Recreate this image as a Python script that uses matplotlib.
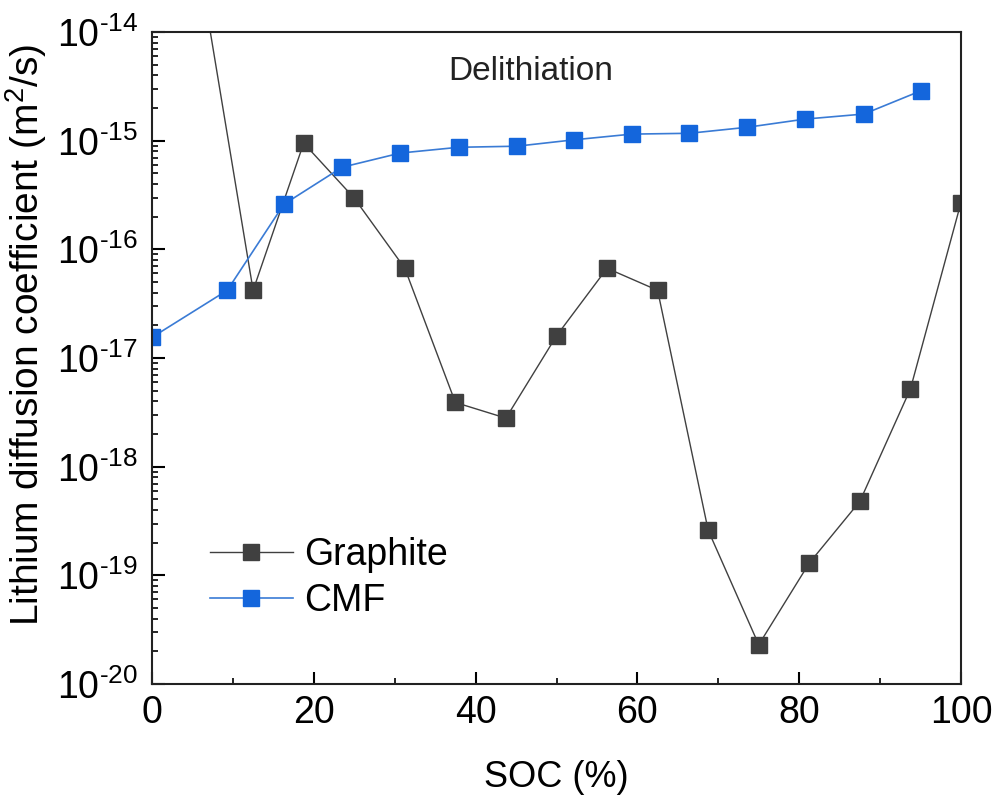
import numpy as np
import matplotlib
matplotlib.use('Agg')
import matplotlib.pyplot as plt
from matplotlib.ticker import (FixedLocator, LogLocator, MultipleLocator,
                               NullFormatter, FuncFormatter)

plt.rcParams['font.family'] = ['Liberation Sans', 'DejaVu Sans']
plt.rcParams['mathtext.fontset'] = 'custom'
plt.rcParams['mathtext.rm'] = 'Liberation Sans'
plt.rcParams['mathtext.it'] = 'Liberation Sans:italic'

# graphite, delithiation
soc_graphite = [6.25, 12.5, 18.75, 25, 31.25, 37.5, 43.75, 50, 56.25, 62.5,
                68.75, 75, 81.25, 87.5, 93.75, 100]
d_graphite = [2.7e-14, 4.2e-17, 9.5e-16, 2.96e-16, 6.7e-17, 3.9e-18, 2.8e-18,
              1.6e-17, 6.7e-17, 4.2e-17, 2.6e-19, 2.3e-20, 1.3e-19, 4.8e-19,
              5.2e-18, 2.7e-16]

# CMF, delithiation
soc_cmf = [0, 9.3, 16.3, 23.5, 30.7, 37.9, 45.1, 52.2, 59.3, 66.4, 73.6,
           80.7, 88.0, 95.0]
d_cmf = [1.55e-17, 4.2e-17, 2.6e-16, 5.7e-16, 7.7e-16, 8.7e-16, 8.9e-16,
         1.02e-15, 1.15e-15, 1.17e-15, 1.33e-15, 1.58e-15, 1.76e-15, 2.87e-15]

y_decades = [1e-20, 1e-19, 1e-18, 1e-17, 1e-16, 1e-15, 1e-14]


def sci_label(v, pos):
    e = int(round(np.log10(v)))
    if e < 0:
        return r'$10^{\text{-}%d}$' % (-e)
    return r'$10^{%d}$' % e


fig = plt.figure(figsize=(10, 8.01), dpi=100)
ax = fig.add_axes([0.152, 0.146, 0.809, 0.814])

ax.plot(soc_graphite, d_graphite, color='#404040', lw=1.0, marker='s', ms=11,
        mfc='#404040', mec='#404040', label='Graphite')
ax.plot(soc_cmf, d_cmf, color='#3a7bd5', lw=1.2, marker='s', ms=11,
        mfc='#1466dc', mec='#1466dc', label='CMF')

ax.set_yscale('log')
ax.set_xlim(0, 100)
ax.set_ylim(1e-20, 1e-14)
ax.xaxis.set_major_locator(MultipleLocator(20))
ax.xaxis.set_minor_locator(MultipleLocator(10))
ax.yaxis.set_major_locator(FixedLocator(y_decades))
ax.yaxis.set_major_formatter(FuncFormatter(sci_label))
ax.yaxis.set_minor_locator(LogLocator(base=10, subs=np.arange(2, 10), numticks=20))
ax.yaxis.set_minor_formatter(NullFormatter())

ax.tick_params(axis='both', which='major', direction='in', length=9, width=1.5,
               labelsize=27, pad=8)
ax.tick_params(axis='y', which='major', pad=10)
ax.tick_params(axis='both', which='minor', direction='in', length=4.5, width=1.2)
ax.tick_params(top=False, right=False)
for s in ax.spines.values():
    s.set_linewidth(1.5)
    s.set_color('#222222')

ax.set_xlabel('SOC (%)', fontsize=26)
ax.xaxis.set_label_coords(0.5, -0.117)
ax.set_ylabel('Lithium diffusion coefficient (m$^2$/s)', fontsize=28)
ax.yaxis.set_label_coords(-0.127, 0.535)

ax.text(0.468, 0.94, 'Delithiation', transform=ax.transAxes, fontsize=24,
        ha='center', va='center', color='#222222')

ax.legend(loc='lower left', bbox_to_anchor=(0.072, 0.10), frameon=False,
          fontsize=27, handlelength=2.2, handletextpad=0.3, labelspacing=0.25,
          borderaxespad=0, borderpad=0)

fig.savefig('out.png', dpi=100)
